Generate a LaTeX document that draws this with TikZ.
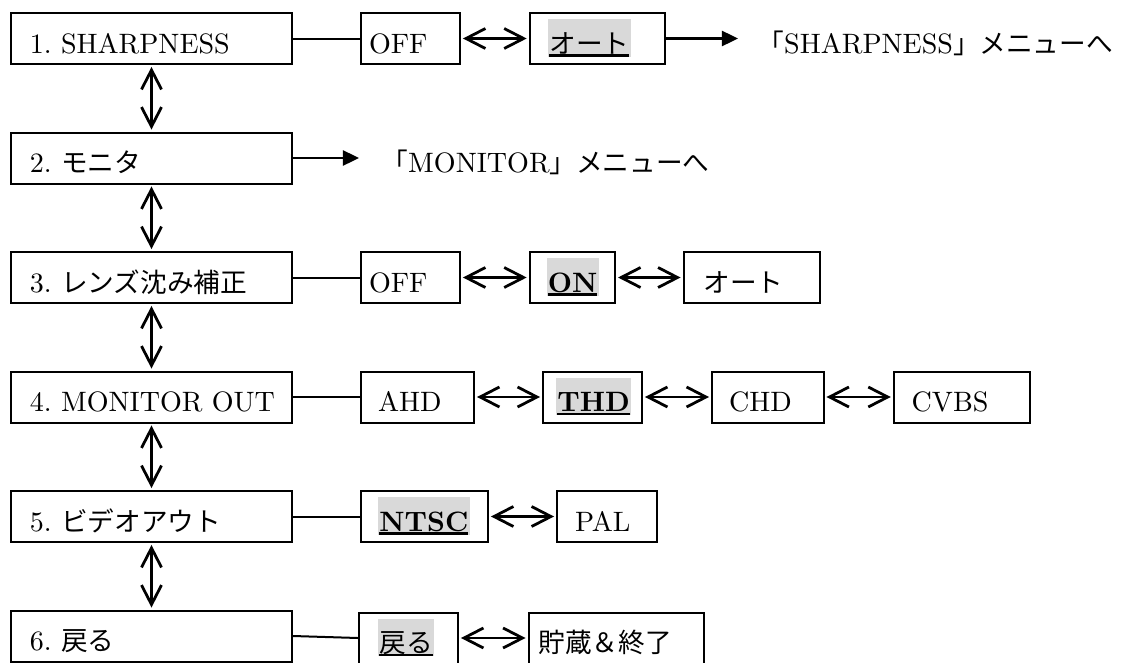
\documentclass[tikz,border=0pt]{standalone}
\usepackage{fontspec}
\newfontfamily\jp{Noto Sans CJK JP}[Scale=0.95]
\usetikzlibrary{arrows.meta}
\definecolor{hlgray}{RGB}{217,217,217}
\newsavebox\hlbox
\newcommand\hlt[1]{\sbox\hlbox{#1}{\setlength\fboxsep{0pt}\colorbox{hlgray}{\hspace{0.5pt}\rlap{\rule[-1.3pt]{\wd\hlbox}{0.8pt}}\usebox\hlbox\rule[-1.3pt]{0pt}{13.4pt}\hspace{0.5pt}}}}
\frenchspacing
\tikzset{
  box/.style={draw, line width=0.72pt, anchor=west, minimum height=18.36pt,
    inner xsep=0pt, inner ysep=0pt, text height=11.5pt, text depth=1pt, align=left},
  conn/.style={line width=0.72pt},
  dbl/.style={line width=1pt, {Straight Barb[length=7pt,width=7.2pt]}-{Straight Barb[length=7pt,width=7.2pt]},
    shorten >=0.7pt, shorten <=0.7pt},
  fwd/.style={line width=1pt, -{Triangle[length=5.8pt,width=5.4pt]}},
  lbl/.style={anchor=base west, inner sep=0pt}
}
\begin{document}
\begin{tikzpicture}[x=0.36pt, y=-0.36pt, font=\fontsize{10.1pt}{12pt}\selectfont]
\useasboundingbox (0,0) rectangle (1130,662);
% left column
\node[box, text width=101.16pt] (L1) at (10,38.5) {\noindent\hspace*{6.8pt}1. SHARPNESS};
\node[box, text width=101.16pt] (L2) at (10,158) {\noindent\hspace*{6.8pt}2. {\jp モニタ}};
\node[box, text width=101.16pt] (L3) at (10,277.5) {\noindent\hspace*{6.8pt}3. {\jp レンズ沈み補正}};
\node[box, text width=101.16pt] (L4) at (10,397) {\noindent\hspace*{6.8pt}4. MONITOR OUT};
\node[box, text width=101.16pt] (L5) at (10,516.5) {\noindent\hspace*{6.8pt}5. {\jp ビデオアウト}};
\node[box, text width=101.16pt] (L6) at (10,636) {\noindent\hspace*{6.8pt}6. {\jp 戻る}};
\foreach \a/\b in {L1/L2,L2/L3,L3/L4,L4/L5,L5/L6} \draw[dbl] (\a.south) -- (\b.north);
% row 1
\node[box, text width=35.64pt] (o1a) at (360,38.5) {\noindent\hspace*{2.88pt}OFF};
\node[box, text width=48.78pt] (o1b) at (528.6,38.5) {\noindent\hspace*{6.66pt}\hlt{\jp オート}};
\coordinate (t1) at (738,38.5);
\node[lbl] (m1) at (757,53.1) {{\jp 「}SHARPNESS{\jp 」メニューへ}};
\draw[conn] (L1.east) -- (o1a.west);
\draw[dbl] (o1a.east) -- (o1b.west);
\draw[fwd] (o1b.east) -- (t1);
% row 2
\coordinate (t2) at (359,158);
\node[lbl] (m2) at (381,172.6) {{\jp 「}MONITOR{\jp 」メニューへ}};
\draw[fwd] (L2.east) -- (t2);
% row 3
\node[box, text width=35.64pt] (o3a) at (360,277.5) {\noindent\hspace*{2.88pt}OFF};
\node[box, text width=30.78pt] (o3b) at (528.6,277.5) {\noindent\hspace*{6.12pt}\hlt{\bfseries ON}};
\node[box, text width=49.14pt] (o3c) at (682.5,277.5) {\noindent\hspace*{7.2pt}{\jp オート}};
\draw[conn] (L3.east) -- (o3a.west);
\draw[dbl] (o3a.east) -- (o3b.west);
\draw[dbl] (o3b.east) -- (o3c.west);
% row 4
\node[box, text width=40.68pt] (o4a) at (360,397) {\noindent\hspace*{6.12pt}AHD};
\node[box, text width=35.64pt] (o4b) at (542,397) {\noindent\hspace*{4.68pt}\hlt{\bfseries THD}};
\node[box, text width=40.14pt] (o4c) at (711,397) {\noindent\hspace*{6.12pt}CHD};
\node[box, text width=49.07pt] (o4d) at (892.7,397) {\noindent\hspace*{6.48pt}CVBS};
\draw[conn] (L4.east) -- (o4a.west);
\draw[dbl] (o4a.east) -- (o4b.west);
\draw[dbl] (o4b.east) -- (o4c.west);
\draw[dbl] (o4c.east) -- (o4d.west);
% row 5
\node[box, text width=45.72pt] (o5a) at (360,516.5) {\noindent\hspace*{6.12pt}\hlt{\bfseries NTSC}};
\node[box, text width=36pt] (o5b) at (556,516.5) {\noindent\hspace*{6.48pt}PAL};
\draw[conn] (L5.east) -- (o5a.west);
\draw[dbl] (o5a.east) -- (o5b.west);
% row 6
\node[box, text width=35.64pt] (o6a) at (358,638) {\noindent\hspace*{6.84pt}\hlt{\jp 戻る}};
\node[box, text width=63pt] (o6b) at (527.5,638) {\noindent\hspace*{3.6pt}{\jp 貯蔵＆終了}};
\draw[conn] (L6.east) -- (o6a.west);
\draw[dbl] (o6a.east) -- (o6b.west);
\end{tikzpicture}
\end{document}
